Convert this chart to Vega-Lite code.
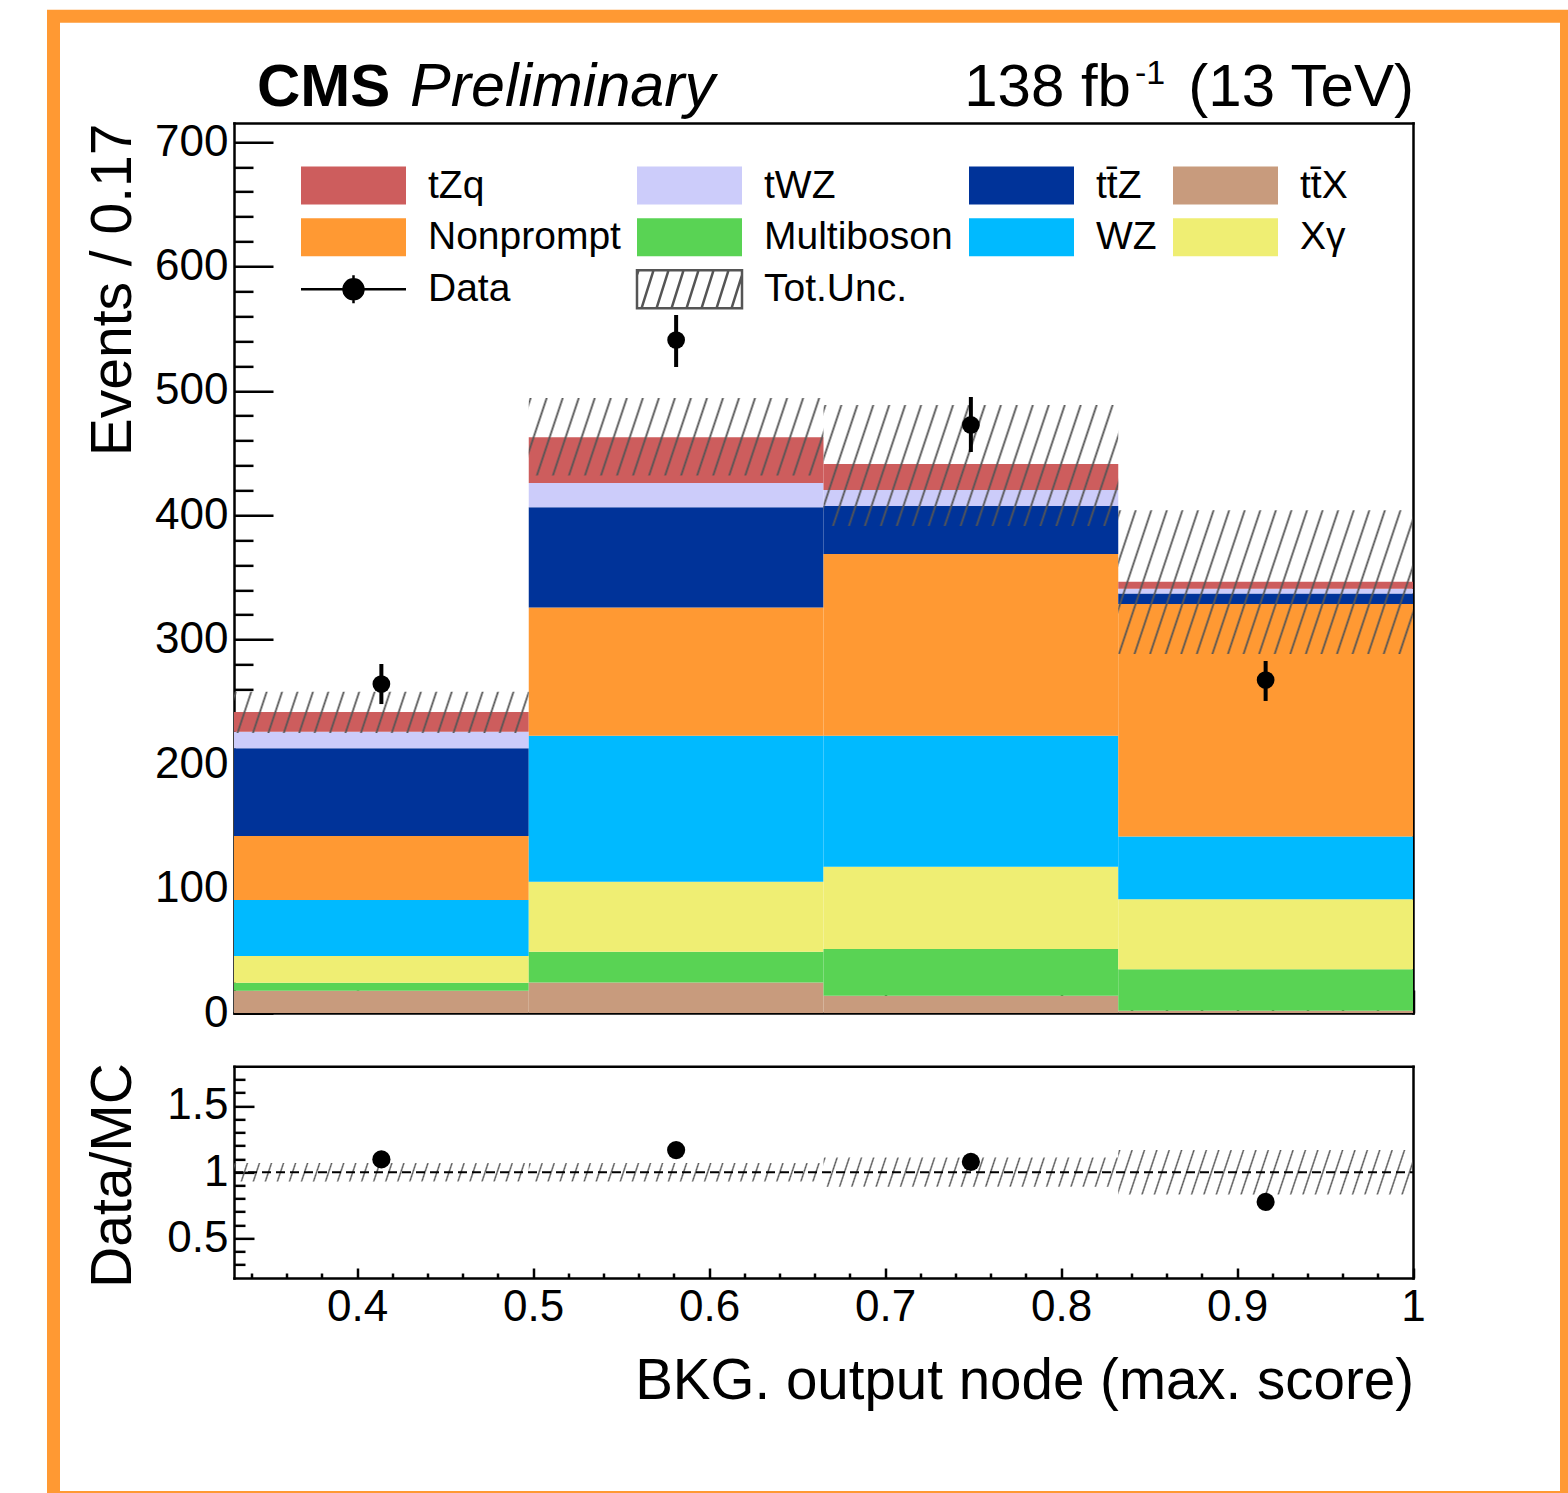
{
  "$schema": "https://vega.github.io/schema/vega-lite/v6.json",
  "width": 1513,
  "height": 1481.2,
  "autosize": {"type": "none"},
  "padding": {"left": 53.5, "top": 16.35, "right": 1.5, "bottom": -4.55},
  "background": "#ffffff",
  "view": {"fill": "#ffffff", "stroke": "#FF9933", "strokeWidth": 13},
  "config": {
    "font": "Liberation Sans",
    "axis": {
      "grid": false, "zindex": 1,
      "labelFont": "Liberation Sans", "titleFont": "Liberation Sans",
      "labelColor": "#000000", "titleColor": "#000000", "titleFontWeight": "normal",
      "domainColor": "#000000", "tickColor": "#000000",
      "domainWidth": 2.5, "tickWidth": 2.5, "domainCap": "square",
      "labelFlush": false, "labelOverlap": false, "labelFontSize": 44
    },
    "legend": {
      "title": null, "orient": "none", "legendX": 278.5, "legendY": 147.5, "direction": "horizontal", "columns": 4,
      "gridAlign": "each", "columnPadding": 11, "rowPadding": 3, "symbolSize": 1600, "symbolStrokeWidth": 2.5,
      "symbolOpacity": 1, "labelFont": "Liberation Sans", "labelFontSize": 39, "labelColor": "#000000",
      "labelOffset": 53, "labelLimit": 400, "padding": 0, "offset": 0
    }
  },
  "datasets": {
    "stack": [
      {"process": "tt̄X", "lo": 0.33, "hi": 0.4975, "n": 17.9},
      {"process": "Multiboson", "lo": 0.33, "hi": 0.4975, "n": 6.5},
      {"process": "Xγ", "lo": 0.33, "hi": 0.4975, "n": 21.4},
      {"process": "WZ", "lo": 0.33, "hi": 0.4975, "n": 45.0},
      {"process": "Nonprompt", "lo": 0.33, "hi": 0.4975, "n": 51.4},
      {"process": "tt̄Z", "lo": 0.33, "hi": 0.4975, "n": 70.5},
      {"process": "tWZ", "lo": 0.33, "hi": 0.4975, "n": 13.4},
      {"process": "tZq", "lo": 0.33, "hi": 0.4975, "n": 15.8},
      {"process": "tt̄X", "lo": 0.4975, "hi": 0.665, "n": 24.6},
      {"process": "Multiboson", "lo": 0.4975, "hi": 0.665, "n": 24.6},
      {"process": "Xγ", "lo": 0.4975, "hi": 0.665, "n": 56.3},
      {"process": "WZ", "lo": 0.4975, "hi": 0.665, "n": 117.4},
      {"process": "Nonprompt", "lo": 0.4975, "hi": 0.665, "n": 103.0},
      {"process": "tt̄Z", "lo": 0.4975, "hi": 0.665, "n": 80.6},
      {"process": "tWZ", "lo": 0.4975, "hi": 0.665, "n": 19.4},
      {"process": "tZq", "lo": 0.4975, "hi": 0.665, "n": 36.8},
      {"process": "tt̄X", "lo": 0.665, "hi": 0.8325, "n": 13.9},
      {"process": "Multiboson", "lo": 0.665, "hi": 0.8325, "n": 37.5},
      {"process": "Xγ", "lo": 0.665, "hi": 0.8325, "n": 66.1},
      {"process": "WZ", "lo": 0.665, "hi": 0.8325, "n": 105.4},
      {"process": "Nonprompt", "lo": 0.665, "hi": 0.8325, "n": 146.1},
      {"process": "tt̄Z", "lo": 0.665, "hi": 0.8325, "n": 38.5},
      {"process": "tWZ", "lo": 0.665, "hi": 0.8325, "n": 12.8},
      {"process": "tZq", "lo": 0.665, "hi": 0.8325, "n": 20.9},
      {"process": "tt̄X", "lo": 0.8325, "hi": 1.0, "n": 1.8},
      {"process": "Multiboson", "lo": 0.8325, "hi": 1.0, "n": 33.3},
      {"process": "Xγ", "lo": 0.8325, "hi": 1.0, "n": 56.3},
      {"process": "WZ", "lo": 0.8325, "hi": 1.0, "n": 50.5},
      {"process": "Nonprompt", "lo": 0.8325, "hi": 1.0, "n": 186.8},
      {"process": "tt̄Z", "lo": 0.8325, "hi": 1.0, "n": 8.5},
      {"process": "tWZ", "lo": 0.8325, "hi": 1.0, "n": 3.8},
      {"process": "tZq", "lo": 0.8325, "hi": 1.0, "n": 5.5}
    ],
    "unc": [
      {"lo": 0.33, "hi": 0.4975, "u0": 225.0, "u1": 258.2},
      {"lo": 0.4975, "hi": 0.665, "u0": 432.0, "u1": 494.3},
      {"lo": 0.665, "hi": 0.8325, "u0": 391.4, "u1": 488.6},
      {"lo": 0.8325, "hi": 1.0, "u0": 288.5, "u1": 404.0}
    ],
    "obs": [
      {"c": 0.41375, "n": 264.4, "e0": 248.3, "e1": 280.5},
      {"c": 0.58125, "n": 540.9, "e0": 519.2, "e1": 561.0},
      {"c": 0.74875, "n": 472.6, "e0": 450.9, "e1": 495.1},
      {"c": 0.91625, "n": 267.6, "e0": 250.8, "e1": 282.9}
    ],
    "rat": [
      {"c": 0.41375, "r": 1.096},
      {"c": 0.58125, "r": 1.167},
      {"c": 0.74875, "r": 1.078},
      {"c": 0.91625, "r": 0.775}
    ],
    "runc": [
      {"lo": 0.33, "hi": 0.4975, "r0": 0.93, "r1": 1.07},
      {"lo": 0.4975, "hi": 0.665, "r0": 0.93, "r1": 1.07},
      {"lo": 0.665, "hi": 0.8325, "r0": 0.89, "r1": 1.11},
      {"lo": 0.8325, "hi": 1.0, "r0": 0.832, "r1": 1.168}
    ],
    "entries": [
      {"process": "tZq"}, {"process": "tWZ"}, {"process": "tt̄Z"}, {"process": "tt̄X"},
      {"process": "Nonprompt"}, {"process": "Multiboson"}, {"process": "WZ"}, {"process": "Xγ"},
      {"process": "Data"}, {"process": "Tot.Unc."}
    ]
  },
  "layer": [
    {
      "layer": [
        {
          "data": {"name": "entries"},
          "mark": {"type": "point", "filled": true, "opacity": 0},
          "encoding": {
            "fill": {"field": "process", "type": "nominal",
              "scale": {"domain": ["tZq","tWZ","tt̄Z","tt̄X","Nonprompt","Multiboson","WZ","Xγ","Data","Tot.Unc."],
                "range": ["#CD5D5D","#CCCCFA","#003399","#C89B7D","#FF9933","#59D354","#00BAFF","#EFEE73","#000000","rgba(0,0,0,0)"]}},
            "shape": {"field": "process", "type": "nominal",
              "scale": {"domain": ["tZq","tWZ","tt̄Z","tt̄X","Nonprompt","Multiboson","WZ","Xγ","Data","Tot.Unc."],
                "range": [
                  "M-2.625,-0.95H2.625V0.95H-2.625Z","M-2.625,-0.95H2.625V0.95H-2.625Z","M-2.625,-0.95H2.625V0.95H-2.625Z","M-2.625,-0.95H2.625V0.95H-2.625Z",
                  "M-2.625,-0.95H2.625V0.95H-2.625Z","M-2.625,-0.95H2.625V0.95H-2.625Z","M-2.625,-0.95H2.625V0.95H-2.625Z","M-2.625,-0.95H2.625V0.95H-2.625Z",
                  "M-2.625,0H2.625M0,-0.7V0.7M-0.5,0A0.5,0.5,0,1,0,0.5,0A0.5,0.5,0,1,0,-0.5,0Z",
                  "M-2.625,-0.95H2.625V0.95H-2.625ZM-2.625,-0.7125L-2.55,-0.95M-2.4,0.95L-1.8,-0.95M-1.65,0.95L-1.05,-0.95M-0.9,0.95L-0.3,-0.95M-0.15,0.95L0.45,-0.95M0.6,0.95L1.2,-0.95M1.35,0.95L1.95,-0.95M2.1,0.95L2.625,-0.7125"]}},
            "stroke": {"field": "process", "type": "nominal",
              "scale": {"domain": ["tZq","tWZ","tt̄Z","tt̄X","Nonprompt","Multiboson","WZ","Xγ","Data","Tot.Unc."],
                "range": ["rgba(0,0,0,0)","rgba(0,0,0,0)","rgba(0,0,0,0)","rgba(0,0,0,0)","rgba(0,0,0,0)","rgba(0,0,0,0)","rgba(0,0,0,0)","rgba(0,0,0,0)","#000000","#555555"]}}
          }
        },
        {
          "data": {"name": "stack"},
          "transform": [
            {"calculate": "indexof(['tt̄X','Multiboson','Xγ','WZ','Nonprompt','tt̄Z','tWZ','tZq'], datum.process)", "as": "k"},
            {"stack": "n", "groupby": ["lo"], "sort": [{"field": "k", "order": "ascending"}], "as": ["s0", "s1"]}
          ],
          "mark": {"type": "rect", "strokeWidth": 0},
          "encoding": {
            "x": {"field": "lo", "type": "quantitative",
              "scale": {"domain": [0.33, 1], "range": [180.5, 1359.5], "nice": false, "zero": false},
              "axis": {"orient": "top", "offset": -996.65, "labels": false, "title": null, "domain": true, "ticks": true,
                "values": [0.34,0.36,0.38,0.4,0.42,0.44,0.46,0.48,0.5,0.52,0.54,0.56,0.58,0.6,0.62,0.64,0.66,0.68,0.7,0.72,0.74,0.76,0.78,0.8,0.82,0.84,0.86,0.88,0.9,0.92,0.94,0.96,0.98,1],
                "tickSize": {"condition": {"test": "abs(datum.value*10-round(datum.value*10))<0.001", "value": 23}, "value": 11}}},
            "x2": {"field": "hi"},
            "y": {"field": "s0", "type": "quantitative",
              "scale": {"domain": [0, 715.3], "range": [996.65, 106.65], "nice": false, "zero": false},
              "axis": {"orient": "left", "offset": -180.5, "values": [0,100,200,300,400,500,600,700], "format": "d",
                "ticks": false, "tickSize": 0, "domain": false, "labelFontSize": 44, "labelPadding": 6,
                "title": "Events / 0.17", "titleFontSize": 57, "titleX": -104, "titleY": 106.65, "titleAngle": 270,
                "titleAlign": "right", "titleBaseline": "alphabetic"}},
            "y2": {"field": "s1"},
            "fill": {"field": "process", "type": "nominal",
              "scale": {"domain": ["tZq","tWZ","tt̄Z","tt̄X","Nonprompt","Multiboson","WZ","Xγ","Data","Tot.Unc."],
                "range": ["#CD5D5D","#CCCCFA","#003399","#C89B7D","#FF9933","#59D354","#00BAFF","#EFEE73","#000000","rgba(0,0,0,0)"]}}
          }
        },
        {
          "data": {"name": "unc"},
          "mark": {"type": "rect", "strokeWidth": 0},
          "encoding": {
            "x": {"field": "lo", "type": "quantitative",
              "axis": {"orient": "top", "offset": -106.65, "labels": false, "ticks": false, "title": null, "domain": true}},
            "x2": {"field": "hi"},
            "y": {"field": "u0", "type": "quantitative",
              "axis": {"orient": "right", "offset": -1332.5, "labels": false, "title": null, "domain": true, "ticks": true,
                "values": [0,20,40,60,80,100,120,140,160,180,200,220,240,260,280,300,320,340,360,380,400,420,440,460,480,500,520,540,560,580,600,620,640,660,680,700],
                "tickSize": {"condition": {"test": "datum.value % 100 == 0", "value": 39}, "value": 19}}},
            "y2": {"field": "u1"},
            "fill": {
              "condition": [
                {"test": "datum.lo < 0.4", "value": {"gradient": "linear", "x1": 0, "y1": 0, "x2": 1.04443, "y2": 0.048781, "stops": [{"offset":0,"color":"#5550"},{"offset":0.006,"color":"#555"},{"offset":0.012,"color":"#5550"},{"offset":0.05,"color":"#5550"},{"offset":0.056,"color":"#555"},{"offset":0.062,"color":"#5550"},{"offset":0.1,"color":"#5550"},{"offset":0.106,"color":"#555"},{"offset":0.112,"color":"#5550"},{"offset":0.15,"color":"#5550"},{"offset":0.156,"color":"#555"},{"offset":0.162,"color":"#5550"},{"offset":0.2,"color":"#5550"},{"offset":0.206,"color":"#555"},{"offset":0.212,"color":"#5550"},{"offset":0.25,"color":"#5550"},{"offset":0.256,"color":"#555"},{"offset":0.262,"color":"#5550"},{"offset":0.3,"color":"#5550"},{"offset":0.306,"color":"#555"},{"offset":0.312,"color":"#5550"},{"offset":0.35,"color":"#5550"},{"offset":0.356,"color":"#555"},{"offset":0.362,"color":"#5550"},{"offset":0.4,"color":"#5550"},{"offset":0.406,"color":"#555"},{"offset":0.412,"color":"#5550"},{"offset":0.45,"color":"#5550"},{"offset":0.456,"color":"#555"},{"offset":0.462,"color":"#5550"},{"offset":0.5,"color":"#5550"},{"offset":0.506,"color":"#555"},{"offset":0.512,"color":"#5550"},{"offset":0.55,"color":"#5550"},{"offset":0.556,"color":"#555"},{"offset":0.562,"color":"#5550"},{"offset":0.6,"color":"#5550"},{"offset":0.606,"color":"#555"},{"offset":0.612,"color":"#5550"},{"offset":0.65,"color":"#5550"},{"offset":0.656,"color":"#555"},{"offset":0.662,"color":"#5550"},{"offset":0.7,"color":"#5550"},{"offset":0.706,"color":"#555"},{"offset":0.712,"color":"#5550"},{"offset":0.75,"color":"#5550"},{"offset":0.756,"color":"#555"},{"offset":0.762,"color":"#5550"},{"offset":0.8,"color":"#5550"},{"offset":0.806,"color":"#555"},{"offset":0.812,"color":"#5550"},{"offset":0.85,"color":"#5550"},{"offset":0.856,"color":"#555"},{"offset":0.862,"color":"#5550"},{"offset":0.9,"color":"#5550"},{"offset":0.906,"color":"#555"},{"offset":0.912,"color":"#5550"},{"offset":0.95,"color":"#5550"},{"offset":0.956,"color":"#555"},{"offset":0.962,"color":"#5550"}]}},
                {"test": "datum.lo < 0.6", "value": {"gradient": "linear", "x1": 0, "y1": 0, "x2": 1.07935, "y2": 0.0946, "stops": [{"offset":0,"color":"#5550"},{"offset":0.006,"color":"#555"},{"offset":0.012,"color":"#5550"},{"offset":0.05,"color":"#5550"},{"offset":0.056,"color":"#555"},{"offset":0.062,"color":"#5550"},{"offset":0.1,"color":"#5550"},{"offset":0.106,"color":"#555"},{"offset":0.112,"color":"#5550"},{"offset":0.15,"color":"#5550"},{"offset":0.156,"color":"#555"},{"offset":0.162,"color":"#5550"},{"offset":0.2,"color":"#5550"},{"offset":0.206,"color":"#555"},{"offset":0.212,"color":"#5550"},{"offset":0.25,"color":"#5550"},{"offset":0.256,"color":"#555"},{"offset":0.262,"color":"#5550"},{"offset":0.3,"color":"#5550"},{"offset":0.306,"color":"#555"},{"offset":0.312,"color":"#5550"},{"offset":0.35,"color":"#5550"},{"offset":0.356,"color":"#555"},{"offset":0.362,"color":"#5550"},{"offset":0.4,"color":"#5550"},{"offset":0.406,"color":"#555"},{"offset":0.412,"color":"#5550"},{"offset":0.45,"color":"#5550"},{"offset":0.456,"color":"#555"},{"offset":0.462,"color":"#5550"},{"offset":0.5,"color":"#5550"},{"offset":0.506,"color":"#555"},{"offset":0.512,"color":"#5550"},{"offset":0.55,"color":"#5550"},{"offset":0.556,"color":"#555"},{"offset":0.562,"color":"#5550"},{"offset":0.6,"color":"#5550"},{"offset":0.606,"color":"#555"},{"offset":0.612,"color":"#5550"},{"offset":0.65,"color":"#5550"},{"offset":0.656,"color":"#555"},{"offset":0.662,"color":"#5550"},{"offset":0.7,"color":"#5550"},{"offset":0.706,"color":"#555"},{"offset":0.712,"color":"#5550"},{"offset":0.75,"color":"#5550"},{"offset":0.756,"color":"#555"},{"offset":0.762,"color":"#5550"},{"offset":0.8,"color":"#5550"},{"offset":0.806,"color":"#555"},{"offset":0.812,"color":"#5550"},{"offset":0.85,"color":"#5550"},{"offset":0.856,"color":"#555"},{"offset":0.862,"color":"#5550"},{"offset":0.9,"color":"#5550"},{"offset":0.906,"color":"#555"},{"offset":0.912,"color":"#5550"},{"offset":0.95,"color":"#5550"},{"offset":0.956,"color":"#555"},{"offset":0.962,"color":"#5550"}]}},
                {"test": "datum.lo < 0.7", "value": {"gradient": "linear", "x1": 0, "y1": 0, "x2": 1.11587, "y2": 0.152568, "stops": [{"offset":0,"color":"#5550"},{"offset":0.0057,"color":"#555"},{"offset":0.0114,"color":"#5550"},{"offset":0.0476,"color":"#5550"},{"offset":0.0533,"color":"#555"},{"offset":0.059,"color":"#5550"},{"offset":0.0952,"color":"#5550"},{"offset":0.101,"color":"#555"},{"offset":0.1067,"color":"#5550"},{"offset":0.1429,"color":"#5550"},{"offset":0.1486,"color":"#555"},{"offset":0.1543,"color":"#5550"},{"offset":0.1905,"color":"#5550"},{"offset":0.1962,"color":"#555"},{"offset":0.2019,"color":"#5550"},{"offset":0.2381,"color":"#5550"},{"offset":0.2438,"color":"#555"},{"offset":0.2495,"color":"#5550"},{"offset":0.2857,"color":"#5550"},{"offset":0.2914,"color":"#555"},{"offset":0.2971,"color":"#5550"},{"offset":0.3333,"color":"#5550"},{"offset":0.339,"color":"#555"},{"offset":0.3448,"color":"#5550"},{"offset":0.381,"color":"#5550"},{"offset":0.3867,"color":"#555"},{"offset":0.3924,"color":"#5550"},{"offset":0.4286,"color":"#5550"},{"offset":0.4343,"color":"#555"},{"offset":0.44,"color":"#5550"},{"offset":0.4762,"color":"#5550"},{"offset":0.4819,"color":"#555"},{"offset":0.4876,"color":"#5550"},{"offset":0.5238,"color":"#5550"},{"offset":0.5295,"color":"#555"},{"offset":0.5352,"color":"#5550"},{"offset":0.5714,"color":"#5550"},{"offset":0.5771,"color":"#555"},{"offset":0.5829,"color":"#5550"},{"offset":0.619,"color":"#5550"},{"offset":0.6248,"color":"#555"},{"offset":0.6305,"color":"#5550"},{"offset":0.6667,"color":"#5550"},{"offset":0.6724,"color":"#555"},{"offset":0.6781,"color":"#5550"},{"offset":0.7143,"color":"#5550"},{"offset":0.72,"color":"#555"},{"offset":0.7257,"color":"#5550"},{"offset":0.7619,"color":"#5550"},{"offset":0.7676,"color":"#555"},{"offset":0.7733,"color":"#5550"},{"offset":0.8095,"color":"#5550"},{"offset":0.8152,"color":"#555"},{"offset":0.821,"color":"#5550"},{"offset":0.8571,"color":"#5550"},{"offset":0.8629,"color":"#555"},{"offset":0.8686,"color":"#5550"},{"offset":0.9048,"color":"#5550"},{"offset":0.9105,"color":"#555"},{"offset":0.9162,"color":"#5550"},{"offset":0.9524,"color":"#5550"},{"offset":0.9581,"color":"#555"},{"offset":0.9638,"color":"#5550"}]}}
              ],
              "value": {"gradient": "linear", "x1": 0, "y1": 0, "x2": 1.1326, "y2": 0.18406, "stops": [{"offset":0,"color":"#5550"},{"offset":0.0055,"color":"#555"},{"offset":0.0109,"color":"#5550"},{"offset":0.0455,"color":"#5550"},{"offset":0.0509,"color":"#555"},{"offset":0.0564,"color":"#5550"},{"offset":0.0909,"color":"#5550"},{"offset":0.0964,"color":"#555"},{"offset":0.1018,"color":"#5550"},{"offset":0.1364,"color":"#5550"},{"offset":0.1418,"color":"#555"},{"offset":0.1473,"color":"#5550"},{"offset":0.1818,"color":"#5550"},{"offset":0.1873,"color":"#555"},{"offset":0.1927,"color":"#5550"},{"offset":0.2273,"color":"#5550"},{"offset":0.2327,"color":"#555"},{"offset":0.2382,"color":"#5550"},{"offset":0.2727,"color":"#5550"},{"offset":0.2782,"color":"#555"},{"offset":0.2836,"color":"#5550"},{"offset":0.3182,"color":"#5550"},{"offset":0.3236,"color":"#555"},{"offset":0.3291,"color":"#5550"},{"offset":0.3636,"color":"#5550"},{"offset":0.3691,"color":"#555"},{"offset":0.3745,"color":"#5550"},{"offset":0.4091,"color":"#5550"},{"offset":0.4145,"color":"#555"},{"offset":0.42,"color":"#5550"},{"offset":0.4545,"color":"#5550"},{"offset":0.46,"color":"#555"},{"offset":0.4655,"color":"#5550"},{"offset":0.5,"color":"#5550"},{"offset":0.5055,"color":"#555"},{"offset":0.5109,"color":"#5550"},{"offset":0.5455,"color":"#5550"},{"offset":0.5509,"color":"#555"},{"offset":0.5564,"color":"#5550"},{"offset":0.5909,"color":"#5550"},{"offset":0.5964,"color":"#555"},{"offset":0.6018,"color":"#5550"},{"offset":0.6364,"color":"#5550"},{"offset":0.6418,"color":"#555"},{"offset":0.6473,"color":"#5550"},{"offset":0.6818,"color":"#5550"},{"offset":0.6873,"color":"#555"},{"offset":0.6927,"color":"#5550"},{"offset":0.7273,"color":"#5550"},{"offset":0.7327,"color":"#555"},{"offset":0.7382,"color":"#5550"},{"offset":0.7727,"color":"#5550"},{"offset":0.7782,"color":"#555"},{"offset":0.7836,"color":"#5550"},{"offset":0.8182,"color":"#5550"},{"offset":0.8236,"color":"#555"},{"offset":0.8291,"color":"#5550"},{"offset":0.8636,"color":"#5550"},{"offset":0.8691,"color":"#555"},{"offset":0.8745,"color":"#5550"},{"offset":0.9091,"color":"#5550"},{"offset":0.9145,"color":"#555"},{"offset":0.92,"color":"#5550"},{"offset":0.9545,"color":"#5550"},{"offset":0.96,"color":"#555"},{"offset":0.9655,"color":"#5550"}]}
            }
          }
        },
        {
          "data": {"name": "obs"},
          "mark": {"type": "rule", "color": "#000000", "strokeWidth": 4},
          "encoding": {
            "x": {"field": "c", "type": "quantitative", "axis": null},
            "y": {"field": "e0", "type": "quantitative", "axis": null},
            "y2": {"field": "e1"}
          }
        },
        {
          "data": {"name": "obs"},
          "mark": {"type": "point", "filled": true, "color": "#000000", "size": 314, "opacity": 1},
          "encoding": {
            "x": {"field": "c", "type": "quantitative", "axis": null},
            "y": {"field": "n", "type": "quantitative",
              "axis": {"orient": "right", "offset": -153.5, "labels": false, "ticks": false, "title": null, "domain": true}}
          }
        },
        {
          "data": {"values": [{}]},
          "mark": {"type": "text", "text": "CMS", "font": "Liberation Sans", "fontWeight": "bold", "fontSize": 60, "align": "left", "baseline": "alphabetic", "dx": 23, "dy": -17, "color": "#000000"},
          "encoding": {"x": {"datum": 0.33, "type": "quantitative", "axis": null}, "y": {"datum": 715.3, "type": "quantitative", "axis": null}}
        },
        {
          "data": {"values": [{}]},
          "mark": {"type": "text", "text": "Preliminary", "font": "Liberation Sans", "fontStyle": "italic", "fontSize": 61, "align": "left", "baseline": "alphabetic", "dx": 176, "dy": -17, "color": "#000000"},
          "encoding": {"x": {"datum": 0.33, "type": "quantitative", "axis": null}, "y": {"datum": 715.3, "type": "quantitative", "axis": null}}
        },
        {
          "data": {"values": [{}]},
          "mark": {"type": "text", "text": "138 fb", "font": "Liberation Sans", "fontSize": 60, "align": "right", "baseline": "alphabetic", "dx": -282, "dy": -17, "color": "#000000"},
          "encoding": {"x": {"datum": 1, "type": "quantitative", "axis": null}, "y": {"datum": 715.3, "type": "quantitative", "axis": null}}
        },
        {
          "data": {"values": [{}]},
          "mark": {"type": "text", "text": "-1", "font": "Liberation Sans", "fontSize": 34, "align": "left", "baseline": "alphabetic", "dx": -278, "dy": -39, "color": "#000000"},
          "encoding": {"x": {"datum": 1, "type": "quantitative", "axis": null}, "y": {"datum": 715.3, "type": "quantitative", "axis": null}}
        },
        {
          "data": {"values": [{}]},
          "mark": {"type": "text", "text": "(13 TeV)", "font": "Liberation Sans", "fontSize": 60, "align": "right", "baseline": "alphabetic", "dx": 1, "dy": -17, "color": "#000000"},
          "encoding": {"x": {"datum": 1, "type": "quantitative", "axis": null}, "y": {"datum": 715.3, "type": "quantitative", "axis": null}}
        }
      ],
      "resolve": {"axis": {"x": "independent", "y": "independent"}}
    },
    {
      "layer": [
        {
          "data": {"name": "runc"},
          "mark": {"type": "rect", "strokeWidth": 0},
          "encoding": {
            "x": {"field": "lo", "type": "quantitative",
              "scale": {"domain": [0.33, 1], "range": [180.5, 1359.5], "nice": false, "zero": false},
              "axis": {"orient": "bottom", "offset": -219.55, "values": [0.4,0.5,0.6,0.7,0.8,0.9,1], "format": "~g",
                "ticks": false, "tickSize": 0, "domain": true, "labelFontSize": 44, "labelPadding": 42, "labelBaseline": "alphabetic",
                "title": "BKG. output node (max. score)", "titleFontSize": 56.5, "titleX": 1360, "titleY": 120,
                "titleAlign": "right", "titleBaseline": "alphabetic", "titleAngle": 0}},
            "x2": {"field": "hi"},
            "y": {"field": "r0", "type": "quantitative",
              "scale": {"domain": [0.2, 1.8], "range": [1261.65, 1049.95], "nice": false, "zero": false},
              "axis": {"orient": "left", "offset": -180.5, "values": [0.5,1,1.5], "format": "~g",
                "ticks": false, "tickSize": 0, "domain": false, "labelFontSize": 44, "labelPadding": 6,
                "title": "Data/MC", "titleFontSize": 57, "titleX": -104, "titleY": 1158.65, "titleAngle": 270,
                "titleAlign": "center", "titleBaseline": "alphabetic"}},
            "y2": {"field": "r1"},
            "fill": {
              "condition": [
                {"test": "datum.lo < 0.6", "value": {"gradient": "linear", "x1": 0, "y1": 0, "x2": 1.02048, "y2": 0.02135, "stops": [{"offset":0,"color":"#5550"},{"offset":0.0048,"color":"#555"},{"offset":0.0096,"color":"#5550"},{"offset":0.04,"color":"#5550"},{"offset":0.0448,"color":"#555"},{"offset":0.0496,"color":"#5550"},{"offset":0.08,"color":"#5550"},{"offset":0.0848,"color":"#555"},{"offset":0.0896,"color":"#5550"},{"offset":0.12,"color":"#5550"},{"offset":0.1248,"color":"#555"},{"offset":0.1296,"color":"#5550"},{"offset":0.16,"color":"#5550"},{"offset":0.1648,"color":"#555"},{"offset":0.1696,"color":"#5550"},{"offset":0.2,"color":"#5550"},{"offset":0.2048,"color":"#555"},{"offset":0.2096,"color":"#5550"},{"offset":0.24,"color":"#5550"},{"offset":0.2448,"color":"#555"},{"offset":0.2496,"color":"#5550"},{"offset":0.28,"color":"#5550"},{"offset":0.2848,"color":"#555"},{"offset":0.2896,"color":"#5550"},{"offset":0.32,"color":"#5550"},{"offset":0.3248,"color":"#555"},{"offset":0.3296,"color":"#5550"},{"offset":0.36,"color":"#5550"},{"offset":0.3648,"color":"#555"},{"offset":0.3696,"color":"#5550"},{"offset":0.4,"color":"#5550"},{"offset":0.4048,"color":"#555"},{"offset":0.4096,"color":"#5550"},{"offset":0.44,"color":"#5550"},{"offset":0.4448,"color":"#555"},{"offset":0.4496,"color":"#5550"},{"offset":0.48,"color":"#5550"},{"offset":0.4848,"color":"#555"},{"offset":0.4896,"color":"#5550"},{"offset":0.52,"color":"#5550"},{"offset":0.5248,"color":"#555"},{"offset":0.5296,"color":"#5550"},{"offset":0.56,"color":"#5550"},{"offset":0.5648,"color":"#555"},{"offset":0.5696,"color":"#5550"},{"offset":0.6,"color":"#5550"},{"offset":0.6048,"color":"#555"},{"offset":0.6096,"color":"#5550"},{"offset":0.64,"color":"#5550"},{"offset":0.6448,"color":"#555"},{"offset":0.6496,"color":"#5550"},{"offset":0.68,"color":"#5550"},{"offset":0.6848,"color":"#555"},{"offset":0.6896,"color":"#5550"},{"offset":0.72,"color":"#5550"},{"offset":0.7248,"color":"#555"},{"offset":0.7296,"color":"#5550"},{"offset":0.76,"color":"#5550"},{"offset":0.7648,"color":"#555"},{"offset":0.7696,"color":"#5550"},{"offset":0.8,"color":"#5550"},{"offset":0.8048,"color":"#555"},{"offset":0.8096,"color":"#5550"},{"offset":0.84,"color":"#5550"},{"offset":0.8448,"color":"#555"},{"offset":0.8496,"color":"#5550"},{"offset":0.88,"color":"#5550"},{"offset":0.8848,"color":"#555"},{"offset":0.8896,"color":"#5550"},{"offset":0.92,"color":"#5550"},{"offset":0.9248,"color":"#555"},{"offset":0.9296,"color":"#5550"},{"offset":0.96,"color":"#5550"},{"offset":0.9648,"color":"#555"},{"offset":0.9696,"color":"#5550"}]}},
                {"test": "datum.lo < 0.7", "value": {"gradient": "linear", "x1": 0, "y1": 0, "x2": 1.03179, "y2": 0.033955, "stops": [{"offset":0,"color":"#5550"},{"offset":0.0048,"color":"#555"},{"offset":0.0096,"color":"#5550"},{"offset":0.04,"color":"#5550"},{"offset":0.0448,"color":"#555"},{"offset":0.0496,"color":"#5550"},{"offset":0.08,"color":"#5550"},{"offset":0.0848,"color":"#555"},{"offset":0.0896,"color":"#5550"},{"offset":0.12,"color":"#5550"},{"offset":0.1248,"color":"#555"},{"offset":0.1296,"color":"#5550"},{"offset":0.16,"color":"#5550"},{"offset":0.1648,"color":"#555"},{"offset":0.1696,"color":"#5550"},{"offset":0.2,"color":"#5550"},{"offset":0.2048,"color":"#555"},{"offset":0.2096,"color":"#5550"},{"offset":0.24,"color":"#5550"},{"offset":0.2448,"color":"#555"},{"offset":0.2496,"color":"#5550"},{"offset":0.28,"color":"#5550"},{"offset":0.2848,"color":"#555"},{"offset":0.2896,"color":"#5550"},{"offset":0.32,"color":"#5550"},{"offset":0.3248,"color":"#555"},{"offset":0.3296,"color":"#5550"},{"offset":0.36,"color":"#5550"},{"offset":0.3648,"color":"#555"},{"offset":0.3696,"color":"#5550"},{"offset":0.4,"color":"#5550"},{"offset":0.4048,"color":"#555"},{"offset":0.4096,"color":"#5550"},{"offset":0.44,"color":"#5550"},{"offset":0.4448,"color":"#555"},{"offset":0.4496,"color":"#5550"},{"offset":0.48,"color":"#5550"},{"offset":0.4848,"color":"#555"},{"offset":0.4896,"color":"#5550"},{"offset":0.52,"color":"#5550"},{"offset":0.5248,"color":"#555"},{"offset":0.5296,"color":"#5550"},{"offset":0.56,"color":"#5550"},{"offset":0.5648,"color":"#555"},{"offset":0.5696,"color":"#5550"},{"offset":0.6,"color":"#5550"},{"offset":0.6048,"color":"#555"},{"offset":0.6096,"color":"#5550"},{"offset":0.64,"color":"#5550"},{"offset":0.6448,"color":"#555"},{"offset":0.6496,"color":"#5550"},{"offset":0.68,"color":"#5550"},{"offset":0.6848,"color":"#555"},{"offset":0.6896,"color":"#5550"},{"offset":0.72,"color":"#5550"},{"offset":0.7248,"color":"#555"},{"offset":0.7296,"color":"#5550"},{"offset":0.76,"color":"#5550"},{"offset":0.7648,"color":"#555"},{"offset":0.7696,"color":"#5550"},{"offset":0.8,"color":"#5550"},{"offset":0.8048,"color":"#555"},{"offset":0.8096,"color":"#5550"},{"offset":0.84,"color":"#5550"},{"offset":0.8448,"color":"#555"},{"offset":0.8496,"color":"#5550"},{"offset":0.88,"color":"#5550"},{"offset":0.8848,"color":"#555"},{"offset":0.8896,"color":"#5550"},{"offset":0.92,"color":"#5550"},{"offset":0.9248,"color":"#555"},{"offset":0.9296,"color":"#5550"},{"offset":0.96,"color":"#5550"},{"offset":0.9648,"color":"#555"},{"offset":0.9696,"color":"#5550"}]}}
              ],
              "value": {"gradient": "linear", "x1": 0, "y1": 0, "x2": 1.04767, "y2": 0.052724, "stops": [{"offset":0,"color":"#5550"},{"offset":0.0048,"color":"#555"},{"offset":0.0096,"color":"#5550"},{"offset":0.04,"color":"#5550"},{"offset":0.0448,"color":"#555"},{"offset":0.0496,"color":"#5550"},{"offset":0.08,"color":"#5550"},{"offset":0.0848,"color":"#555"},{"offset":0.0896,"color":"#5550"},{"offset":0.12,"color":"#5550"},{"offset":0.1248,"color":"#555"},{"offset":0.1296,"color":"#5550"},{"offset":0.16,"color":"#5550"},{"offset":0.1648,"color":"#555"},{"offset":0.1696,"color":"#5550"},{"offset":0.2,"color":"#5550"},{"offset":0.2048,"color":"#555"},{"offset":0.2096,"color":"#5550"},{"offset":0.24,"color":"#5550"},{"offset":0.2448,"color":"#555"},{"offset":0.2496,"color":"#5550"},{"offset":0.28,"color":"#5550"},{"offset":0.2848,"color":"#555"},{"offset":0.2896,"color":"#5550"},{"offset":0.32,"color":"#5550"},{"offset":0.3248,"color":"#555"},{"offset":0.3296,"color":"#5550"},{"offset":0.36,"color":"#5550"},{"offset":0.3648,"color":"#555"},{"offset":0.3696,"color":"#5550"},{"offset":0.4,"color":"#5550"},{"offset":0.4048,"color":"#555"},{"offset":0.4096,"color":"#5550"},{"offset":0.44,"color":"#5550"},{"offset":0.4448,"color":"#555"},{"offset":0.4496,"color":"#5550"},{"offset":0.48,"color":"#5550"},{"offset":0.4848,"color":"#555"},{"offset":0.4896,"color":"#5550"},{"offset":0.52,"color":"#5550"},{"offset":0.5248,"color":"#555"},{"offset":0.5296,"color":"#5550"},{"offset":0.56,"color":"#5550"},{"offset":0.5648,"color":"#555"},{"offset":0.5696,"color":"#5550"},{"offset":0.6,"color":"#5550"},{"offset":0.6048,"color":"#555"},{"offset":0.6096,"color":"#5550"},{"offset":0.64,"color":"#5550"},{"offset":0.6448,"color":"#555"},{"offset":0.6496,"color":"#5550"},{"offset":0.68,"color":"#5550"},{"offset":0.6848,"color":"#555"},{"offset":0.6896,"color":"#5550"},{"offset":0.72,"color":"#5550"},{"offset":0.7248,"color":"#555"},{"offset":0.7296,"color":"#5550"},{"offset":0.76,"color":"#5550"},{"offset":0.7648,"color":"#555"},{"offset":0.7696,"color":"#5550"},{"offset":0.8,"color":"#5550"},{"offset":0.8048,"color":"#555"},{"offset":0.8096,"color":"#5550"},{"offset":0.84,"color":"#5550"},{"offset":0.8448,"color":"#555"},{"offset":0.8496,"color":"#5550"},{"offset":0.88,"color":"#5550"},{"offset":0.8848,"color":"#555"},{"offset":0.8896,"color":"#5550"},{"offset":0.92,"color":"#5550"},{"offset":0.9248,"color":"#555"},{"offset":0.9296,"color":"#5550"},{"offset":0.96,"color":"#5550"},{"offset":0.9648,"color":"#555"},{"offset":0.9696,"color":"#5550"}]}
            }
          }
        },
        {
          "data": {"values": [{}]},
          "mark": {"type": "rule", "color": "#000000", "strokeWidth": 2, "strokeDash": [9, 5]},
          "encoding": {
            "x": {"datum": 0.33, "type": "quantitative",
              "axis": {"orient": "top", "offset": -1261.65, "labels": false, "title": null, "domain": false, "ticks": true,
                "values": [0.34,0.36,0.38,0.4,0.42,0.44,0.46,0.48,0.5,0.52,0.54,0.56,0.58,0.6,0.62,0.64,0.66,0.68,0.7,0.72,0.74,0.76,0.78,0.8,0.82,0.84,0.86,0.88,0.9,0.92,0.94,0.96,0.98,1],
                "tickSize": {"condition": {"test": "abs(datum.value*10-round(datum.value*10))<0.001", "value": 10}, "value": 5}}},
            "x2": {"datum": 1},
            "y": {"datum": 1, "type": "quantitative",
              "axis": {"orient": "right", "offset": -1332.5, "labels": false, "title": null, "domain": true, "ticks": true,
                "values": [0.3,0.4,0.5,0.6,0.7,0.8,0.9,1,1.1,1.2,1.3,1.4,1.5,1.6,1.7],
                "tickSize": {"condition": {"test": "abs(datum.value*2-round(datum.value*2))<0.001", "value": 20}, "value": 11}}}
          }
        },
        {
          "data": {"name": "rat"},
          "mark": {"type": "point", "filled": true, "color": "#000000", "size": 330, "opacity": 1},
          "encoding": {
            "x": {"field": "c", "type": "quantitative",
              "axis": {"orient": "top", "offset": -1049.95, "labels": false, "ticks": false, "title": null, "domain": true}},
            "y": {"field": "r", "type": "quantitative",
              "axis": {"orient": "right", "offset": -153.5, "labels": false, "ticks": false, "title": null, "domain": true}}
          }
        }
      ],
      "resolve": {"axis": {"x": "independent", "y": "independent"}}
    }
  ],
  "resolve": {"scale": {"y": "independent"}, "axis": {"x": "independent", "y": "independent"}}
}
